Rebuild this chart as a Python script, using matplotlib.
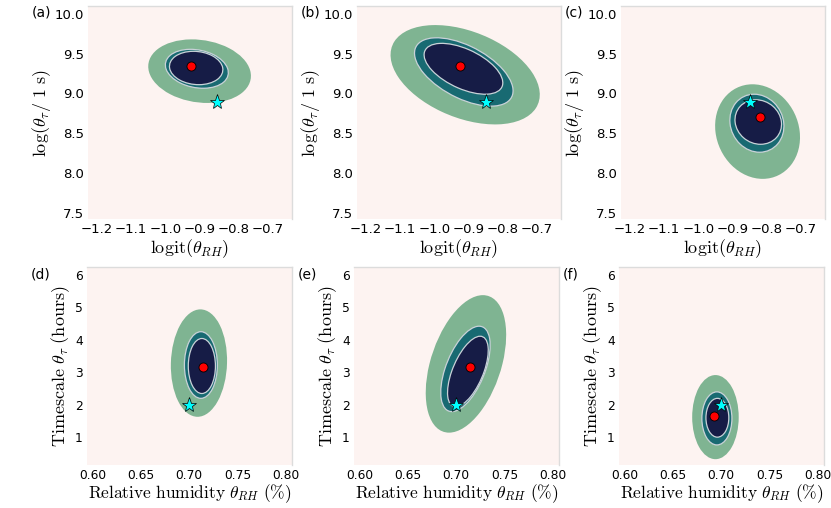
import numpy as np
import matplotlib
matplotlib.use("Agg")
import matplotlib.pyplot as plt
from matplotlib.patches import Ellipse

plt.rcParams['mathtext.fontset'] = 'cm'
plt.rcParams['font.family'] = 'DejaVu Sans'

# credible regions: (centre x, centre y, half extent x, half extent y, tilt/correlation)
outer_regions = [(-0.900, 9.280, 0.150, 0.400, -0.15),
                 (-0.910, 9.235, 0.218, 0.625, -0.40),
                 (-0.827, 8.520, 0.124, 0.595, -0.12),
                 (0.710, 3.280, 0.029, 1.660, 0.05),
                 (0.710, 3.255, 0.0415, 2.125, 0.42),
                 (0.694, 1.610, 0.024, 1.300, 0.00)]
mid_regions = [(-0.908, 9.310, 0.092, 0.245, -0.20),
               (-0.914, 9.270, 0.144, 0.430, -0.55),
               (-0.829, 8.625, 0.079, 0.365, -0.10),
               (0.712, 3.220, 0.017, 1.030, 0.00),
               (0.7095, 3.100, 0.0255, 1.320, 0.55),
               (0.6955, 1.570, 0.0155, 0.820, 0.00)]
inner_regions = [(-0.910, 9.320, 0.078, 0.210, -0.10),
                 (-0.915, 9.310, 0.115, 0.320, -0.55),
                 (-0.825, 8.640, 0.068, 0.280, -0.10),
                 (0.713, 3.190, 0.014, 0.850, 0.00),
                 (0.712, 3.020, 0.021, 1.090, 0.60),
                 (0.696, 1.590, 0.0118, 0.600, 0.00)]

mode_x = [-0.925, -0.926, -0.820, 0.714, 0.714, 0.692]
mode_y = [9.34, 9.34, 8.70, 3.17, 3.17, 1.66]
true_x = [-0.85, -0.85, -0.85, 0.70, 0.70, 0.70]
true_y = [8.89, 8.89, 8.89, 2.0, 2.0, 2.0]

panel_labels = ['(a)', '(b)', '(c)', '(d)', '(e)', '(f)']
top_xticks = [-1.2, -1.1, -1.0, -0.9, -0.8, -0.7]
top_yticks = [7.5, 8.0, 8.5, 9.0, 9.5, 10.0]
bot_xticks = [0.60, 0.65, 0.70, 0.75, 0.80]
bot_yticks = [1, 2, 3, 4, 5, 6]

bg = '#fdf3f1'
c_outer = '#7fb492'
c_mid = '#186a72'
c_inner = '#161c46'
c_line = '#c9d2d8'


def region(ax, reg, color, edge=None):
    cx, cy, hx, hy, rho = reg
    cov = np.array([[hx**2, rho*hx*hy], [rho*hx*hy, hy**2]])
    vals, vecs = np.linalg.eigh(cov)
    ang = np.degrees(np.arctan2(vecs[1, 1], vecs[0, 1]))
    e = Ellipse((cx, cy), 2*np.sqrt(vals[1]), 2*np.sqrt(vals[0]), angle=ang,
                facecolor=color, edgecolor=edge if edge else 'none',
                linewidth=0.9 if edge else 0, zorder=2)
    ax.add_patch(e)


fig = plt.figure(figsize=(8.31, 5.08), dpi=100)
W, H = 831, 508
lefts_top = [88, 357, 621]
lefts_bot = [87, 354, 619]

for i in range(6):
    if i < 3:
        l, t, w, h = lefts_top[i], 6, 204, 213
    else:
        l, t, w, h = lefts_bot[i-3], 267, 205, 198
    ax = fig.add_axes([l/W, 1 - (t+h)/H, w/W, h/H])
    ax.set_facecolor(bg)

    region(ax, outer_regions[i], c_outer)
    region(ax, mid_regions[i], c_mid, c_line)
    region(ax, inner_regions[i], c_inner, c_line)

    ax.plot(mode_x[i], mode_y[i], 'o', color='red', mec='black', mew=0.6,
            ms=6.5, zorder=4)
    ax.plot(true_x[i], true_y[i], '*', color='cyan', mec='black', mew=0.5,
            ms=11, zorder=5)

    if i < 3:
        ax.set_xlim(-1.226, -0.63)
        ax.set_ylim(7.42, 10.1)
        ax.set_xticks(top_xticks)
        ax.set_yticks(top_yticks)
        ax.set_xticklabels(['\u22121.2', '\u22121.1', '\u22121.0', '\u22120.9', '\u22120.8', '\u22120.7'])
        ax.set_yticklabels([f'{v:.1f}' for v in top_yticks])
        ax.set_xlabel(r'$\mathrm{logit}(\theta_{RH})$', fontsize=13, labelpad=1)
        ax.set_ylabel(r'$\log(\theta_\tau/\ 1\ \mathrm{s})$', fontsize=13, labelpad=1)
        ax.tick_params(length=0, pad=3, labelsize=9.5)
    else:
        ax.set_xlim(0.5945, 0.806)
        ax.set_ylim(0.13, 6.25)
        ax.set_xticks(bot_xticks)
        ax.set_yticks(bot_yticks)
        ax.set_xticklabels([f'{v:.2f}' for v in bot_xticks])
        ax.set_xlabel(r'$\mathrm{Relative\ humidity}\ \theta_{RH}\ (\%)$', fontsize=12.5, labelpad=0)
        ax.set_ylabel(r'$\mathrm{Timescale}\ \theta_\tau\ \mathrm{(hours)}$', fontsize=13, labelpad=2)
        ax.tick_params(length=0, pad=3, labelsize=8.8)

    for s in ['left', 'bottom']:
        ax.spines[s].set_visible(False)
    for s in ['top', 'right']:
        ax.spines[s].set_color('#dcdcdc')
        ax.spines[s].set_linewidth(1.0)

    fig.text((l - 56)/W, 1 - (t + 7)/H, panel_labels[i], fontsize=10,
             ha='left', va='center')

fig.savefig('out.png', dpi=100, facecolor='white')
